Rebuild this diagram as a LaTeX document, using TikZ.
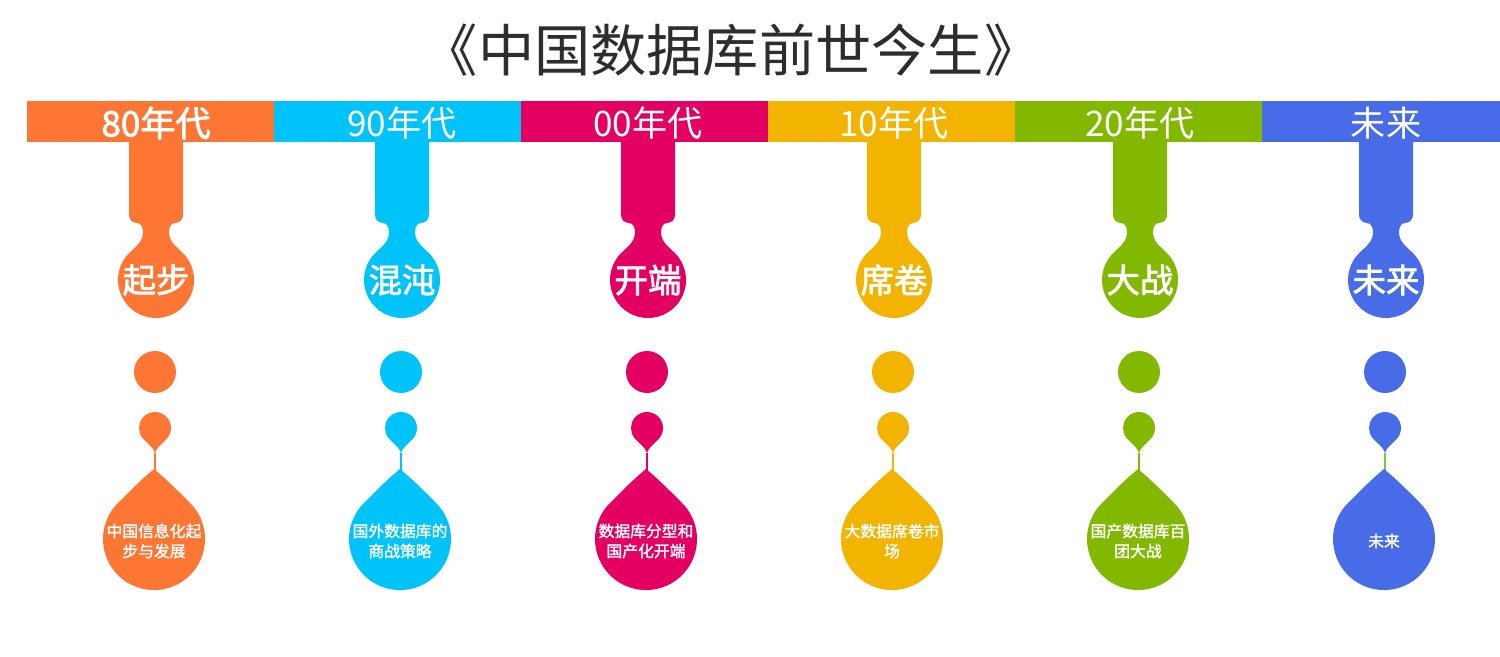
\documentclass[tikz,border=0pt]{standalone}
\usepackage{fontspec}
\newfontfamily\cjk{Noto Sans CJK SC}
\newfontfamily\cjkm[FakeBold=1.6]{Noto Sans CJK SC}
\newfontfamily\cjkb[FakeBold=2.2]{Noto Sans CJK SC}
\definecolor{c1}{RGB}{253,118,52}
\definecolor{c2}{RGB}{0,195,250}
\definecolor{c3}{RGB}{228,0,98}
\definecolor{c4}{RGB}{242,180,0}
\definecolor{c5}{RGB}{130,185,0}
\definecolor{c6}{RGB}{72,108,232}
\definecolor{titlegray}{RGB}{45,45,45}
\definecolor{linkgreen}{RGB}{120,200,60}
\tikzset{
  bartext/.style={font=\cjk\fontsize{20}{24}\selectfont, text=white, inner sep=0pt},
  droplabel/.style={font=\cjkb\fontsize{19}{23}\selectfont, text=white, inner sep=0pt},
  droptext/.style={font=\cjkm\fontsize{9}{11.4}\selectfont, text=white, align=center, inner sep=0pt},
  dot/.style={circle, fill=#1, minimum size=0.84cm, inner sep=0pt},
  link/.style={draw=#1, line width=1.1pt}
}
\begin{document}
\begin{tikzpicture}[x=0.02cm,y=0.02cm]
\useasboundingbox (0,0) rectangle (1500,656);
\fill[white] (0,0) rectangle (1500,656);
\node[font=\cjk\fontsize{32}{38}\selectfont, text=titlegray, inner sep=0pt] (title) at (731,606) {《中国数据库前世今生》};
\foreach \i/\cx/\col/\lc/\yr/\lab/\txt/\fw in {
  1/156/c1/c1/80年代/起步/{中国信息化起\\步与发展}/\cjkb,
  2/402/c2/c2/90年代/混沌/{国外数据库的\\商战策略}/{},
  3/648/c3/c3/00年代/开端/{数据库分型和\\国产化开端}/{},
  4/894/c4/c4/10年代/席卷/{大数据席卷市\\场}/{},
  5/1140/c5/c5/20年代/大战/{国产数据库百\\团大战}/{},
  6/1386/c6/linkgreen/未来/未来/{未来}/{}}
{
  \pgfmathsetmacro{\xa}{27+(\i-1)*247}
  \pgfmathsetmacro{\xb}{min(27+\i*247,1500)}
  \fill[\col] (\xa,514) rectangle (\xb,555);
  \node[bartext] (bar\i) at (\cx,533) {\fw\yr};
  % stem + bulb
  \fill[\col, shift={(\cx,0)}] (-27,514) -- (27,514) -- (27,441)
     arc[start angle=0,end angle=-90,radius=8]
     to[out=180,in=90] (13,424) to[out=-90,in=135] (26.9,402.9)
     arc[start angle=45,end angle=-225,radius=38]
     to[out=45,in=-90] (-13,424) to[out=90,in=0] (-19,433)
     arc[start angle=-90,end angle=-180,radius=8] -- cycle;
  \node[droplabel] (lab\i) at (\cx,376) {\lab};
  % dot
  \node[dot=\col] (dot\i) at (\cx-1,284) {};
  % small drop
  \fill[\col, shift={(\cx-1,0)}] (0,203) to[out=70,in=-130] (12.26,217.7)
     arc[start angle=-40,end angle=220,radius=16]
     to[out=-50,in=110] (0,203) -- cycle;
  \coordinate (tipa\i) at (\cx-1,203);
  \coordinate (tipb\i) at (\cx-1,184);
  \draw[link=\lc] (tipa\i) -- (tipb\i);
  % big drop
  \fill[\col, shift={(\cx-2,0)}] (0,187) to[out=-40,in=135] (34.4,154.6)
     arc[start angle=47.6,end angle=-227.6,radius=51]
     to[out=45,in=-140] (0,187) -- cycle;
  \node[droptext] (txt\i) at (\cx-2,115) {\txt};
}
\end{tikzpicture}
\end{document}
